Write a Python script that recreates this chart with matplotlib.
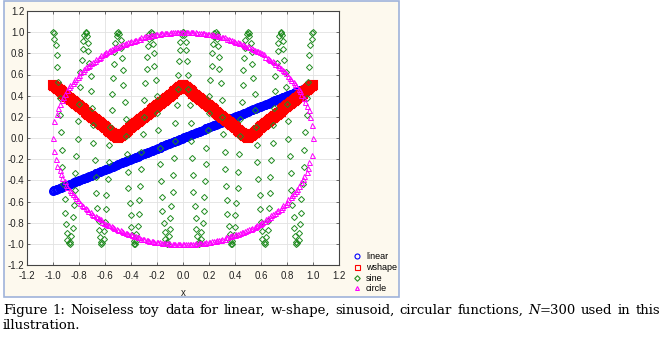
import matplotlib
matplotlib.use('Agg')
import matplotlib.pyplot as plt
from matplotlib.patches import Rectangle
from matplotlib.lines import Line2D

# toy data, N=300 points per series
X = [-1, -0.99, -0.99, -0.98, -0.97, -0.97, -0.96, -0.95, -0.95, -0.94, -0.93, -0.93,
     -0.92, -0.91, -0.91, -0.9, -0.89, -0.89, -0.88, -0.87, -0.87, -0.86, -0.85, -0.85,
     -0.84, -0.83, -0.83, -0.82, -0.81, -0.81, -0.8, -0.79, -0.79, -0.78, -0.77, -0.77,
     -0.76, -0.75, -0.75, -0.74, -0.73, -0.73, -0.72, -0.71, -0.71, -0.7, -0.69, -0.69,
     -0.68, -0.67, -0.67, -0.66, -0.65, -0.65, -0.64, -0.63, -0.63, -0.62, -0.61, -0.61,
     -0.6, -0.59, -0.59, -0.58, -0.57, -0.57, -0.56, -0.55, -0.55, -0.54, -0.53, -0.53,
     -0.52, -0.51, -0.51, -0.5, -0.49, -0.48, -0.48, -0.47, -0.46, -0.46, -0.45, -0.44,
     -0.44, -0.43, -0.42, -0.42, -0.41, -0.4, -0.4, -0.39, -0.38, -0.38, -0.37, -0.36,
     -0.36, -0.35, -0.34, -0.34, -0.33, -0.32, -0.32, -0.31, -0.3, -0.3, -0.29, -0.28,
     -0.28, -0.27, -0.26, -0.26, -0.25, -0.24, -0.24, -0.23, -0.22, -0.22, -0.21, -0.2,
     -0.2, -0.19, -0.18, -0.18, -0.17, -0.16, -0.16, -0.15, -0.14, -0.14, -0.13, -0.12,
     -0.12, -0.11, -0.1, -0.1, -0.09, -0.08, -0.08, -0.07, -0.06, -0.06, -0.05, -0.04,
     -0.04, -0.03, -0.02, -0.02, -0.01, 0, 0, 0.01, 0.02, 0.02, 0.03, 0.04,
     0.04, 0.05, 0.06, 0.06, 0.07, 0.08, 0.08, 0.09, 0.1, 0.1, 0.11, 0.12,
     0.12, 0.13, 0.14, 0.14, 0.15, 0.16, 0.16, 0.17, 0.18, 0.18, 0.19, 0.2,
     0.2, 0.21, 0.22, 0.22, 0.23, 0.24, 0.24, 0.25, 0.26, 0.26, 0.27, 0.28,
     0.28, 0.29, 0.3, 0.3, 0.31, 0.32, 0.32, 0.33, 0.34, 0.34, 0.35, 0.36,
     0.36, 0.37, 0.38, 0.38, 0.39, 0.4, 0.4, 0.41, 0.42, 0.42, 0.43, 0.44,
     0.44, 0.45, 0.46, 0.46, 0.47, 0.48, 0.48, 0.49, 0.5, 0.51, 0.51, 0.52,
     0.53, 0.53, 0.54, 0.55, 0.55, 0.56, 0.57, 0.57, 0.58, 0.59, 0.59, 0.6,
     0.61, 0.61, 0.62, 0.63, 0.63, 0.64, 0.65, 0.65, 0.66, 0.67, 0.67, 0.68,
     0.69, 0.69, 0.7, 0.71, 0.71, 0.72, 0.73, 0.73, 0.74, 0.75, 0.75, 0.76,
     0.77, 0.77, 0.78, 0.79, 0.79, 0.8, 0.81, 0.81, 0.82, 0.83, 0.83, 0.84,
     0.85, 0.85, 0.86, 0.87, 0.87, 0.88, 0.89, 0.89, 0.9, 0.91, 0.91, 0.92,
     0.93, 0.93, 0.94, 0.95, 0.95, 0.96, 0.97, 0.97, 0.98, 0.99, 0.99, 1]

LINEAR = [-0.5, -0.495, -0.495, -0.49, -0.485, -0.485, -0.48, -0.475, -0.475, -0.47, -0.465, -0.465,
          -0.46, -0.455, -0.455, -0.45, -0.445, -0.445, -0.44, -0.435, -0.435, -0.43, -0.425, -0.425,
          -0.42, -0.415, -0.415, -0.41, -0.405, -0.405, -0.4, -0.395, -0.395, -0.39, -0.385, -0.385,
          -0.38, -0.375, -0.375, -0.37, -0.365, -0.365, -0.36, -0.355, -0.355, -0.35, -0.345, -0.345,
          -0.34, -0.335, -0.335, -0.33, -0.325, -0.325, -0.32, -0.315, -0.315, -0.31, -0.305, -0.305,
          -0.3, -0.295, -0.295, -0.29, -0.285, -0.285, -0.28, -0.275, -0.275, -0.27, -0.265, -0.265,
          -0.26, -0.255, -0.255, -0.25, -0.245, -0.24, -0.24, -0.235, -0.23, -0.23, -0.225, -0.22,
          -0.22, -0.215, -0.21, -0.21, -0.205, -0.2, -0.2, -0.195, -0.19, -0.19, -0.185, -0.18,
          -0.18, -0.175, -0.17, -0.17, -0.165, -0.16, -0.16, -0.155, -0.15, -0.15, -0.145, -0.14,
          -0.14, -0.135, -0.13, -0.13, -0.125, -0.12, -0.12, -0.115, -0.11, -0.11, -0.105, -0.1,
          -0.1, -0.095, -0.09, -0.09, -0.085, -0.08, -0.08, -0.075, -0.07, -0.07, -0.065, -0.06,
          -0.06, -0.055, -0.05, -0.05, -0.045, -0.04, -0.04, -0.035, -0.03, -0.03, -0.025, -0.02,
          -0.02, -0.015, -0.01, -0.01, -0.005, 0, 0, 0.005, 0.01, 0.01, 0.015, 0.02,
          0.02, 0.025, 0.03, 0.03, 0.035, 0.04, 0.04, 0.045, 0.05, 0.05, 0.055, 0.06,
          0.06, 0.065, 0.07, 0.07, 0.075, 0.08, 0.08, 0.085, 0.09, 0.09, 0.095, 0.1,
          0.1, 0.105, 0.11, 0.11, 0.115, 0.12, 0.12, 0.125, 0.13, 0.13, 0.135, 0.14,
          0.14, 0.145, 0.15, 0.15, 0.155, 0.16, 0.16, 0.165, 0.17, 0.17, 0.175, 0.18,
          0.18, 0.185, 0.19, 0.19, 0.195, 0.2, 0.2, 0.205, 0.21, 0.21, 0.215, 0.22,
          0.22, 0.225, 0.23, 0.23, 0.235, 0.24, 0.24, 0.245, 0.25, 0.255, 0.255, 0.26,
          0.265, 0.265, 0.27, 0.275, 0.275, 0.28, 0.285, 0.285, 0.29, 0.295, 0.295, 0.3,
          0.305, 0.305, 0.31, 0.315, 0.315, 0.32, 0.325, 0.325, 0.33, 0.335, 0.335, 0.34,
          0.345, 0.345, 0.35, 0.355, 0.355, 0.36, 0.365, 0.365, 0.37, 0.375, 0.375, 0.38,
          0.385, 0.385, 0.39, 0.395, 0.395, 0.4, 0.405, 0.405, 0.41, 0.415, 0.415, 0.42,
          0.425, 0.425, 0.43, 0.435, 0.435, 0.44, 0.445, 0.445, 0.45, 0.455, 0.455, 0.46,
          0.465, 0.465, 0.47, 0.475, 0.475, 0.48, 0.485, 0.485, 0.49, 0.495, 0.495, 0.5]

WSHAPE = [0.5, 0.49, 0.49, 0.48, 0.47, 0.47, 0.46, 0.45, 0.45, 0.44, 0.43, 0.43,
          0.42, 0.41, 0.41, 0.4, 0.39, 0.39, 0.38, 0.37, 0.37, 0.36, 0.35, 0.35,
          0.34, 0.33, 0.33, 0.32, 0.31, 0.31, 0.3, 0.29, 0.29, 0.28, 0.27, 0.27,
          0.26, 0.25, 0.25, 0.24, 0.23, 0.23, 0.22, 0.21, 0.21, 0.2, 0.19, 0.19,
          0.18, 0.17, 0.17, 0.16, 0.15, 0.15, 0.14, 0.13, 0.13, 0.12, 0.11, 0.11,
          0.1, 0.09, 0.09, 0.08, 0.07, 0.07, 0.06, 0.05, 0.05, 0.04, 0.03, 0.03,
          0.02, 0.01, 0.01, 0, 0.01, 0.02, 0.02, 0.03, 0.04, 0.04, 0.05, 0.06,
          0.06, 0.07, 0.08, 0.08, 0.09, 0.1, 0.1, 0.11, 0.12, 0.12, 0.13, 0.14,
          0.14, 0.15, 0.16, 0.16, 0.17, 0.18, 0.18, 0.19, 0.2, 0.2, 0.21, 0.22,
          0.22, 0.23, 0.24, 0.24, 0.25, 0.26, 0.26, 0.27, 0.28, 0.28, 0.29, 0.3,
          0.3, 0.31, 0.32, 0.32, 0.33, 0.34, 0.34, 0.35, 0.36, 0.36, 0.37, 0.38,
          0.38, 0.39, 0.4, 0.4, 0.41, 0.42, 0.42, 0.43, 0.44, 0.44, 0.45, 0.46,
          0.46, 0.47, 0.48, 0.48, 0.49, 0.5, 0.5, 0.49, 0.48, 0.48, 0.47, 0.46,
          0.46, 0.45, 0.44, 0.44, 0.43, 0.42, 0.42, 0.41, 0.4, 0.4, 0.39, 0.38,
          0.38, 0.37, 0.36, 0.36, 0.35, 0.34, 0.34, 0.33, 0.32, 0.32, 0.31, 0.3,
          0.3, 0.29, 0.28, 0.28, 0.27, 0.26, 0.26, 0.25, 0.24, 0.24, 0.23, 0.22,
          0.22, 0.21, 0.2, 0.2, 0.19, 0.18, 0.18, 0.17, 0.16, 0.16, 0.15, 0.14,
          0.14, 0.13, 0.12, 0.12, 0.11, 0.1, 0.1, 0.09, 0.08, 0.08, 0.07, 0.06,
          0.06, 0.05, 0.04, 0.04, 0.03, 0.02, 0.02, 0.01, 0, 0.01, 0.01, 0.02,
          0.03, 0.03, 0.04, 0.05, 0.05, 0.06, 0.07, 0.07, 0.08, 0.09, 0.09, 0.1,
          0.11, 0.11, 0.12, 0.13, 0.13, 0.14, 0.15, 0.15, 0.16, 0.17, 0.17, 0.18,
          0.19, 0.19, 0.2, 0.21, 0.21, 0.22, 0.23, 0.23, 0.24, 0.25, 0.25, 0.26,
          0.27, 0.27, 0.28, 0.29, 0.29, 0.3, 0.31, 0.31, 0.32, 0.33, 0.33, 0.34,
          0.35, 0.35, 0.36, 0.37, 0.37, 0.38, 0.39, 0.39, 0.4, 0.41, 0.41, 0.42,
          0.43, 0.43, 0.44, 0.45, 0.45, 0.46, 0.47, 0.47, 0.48, 0.49, 0.49, 0.5]

SINE = [1, 0.99, 0.94, 0.88, 0.78, 0.67, 0.53, 0.38, 0.22, 0.06,
        -0.11, -0.27, -0.43, -0.58, -0.71, -0.81, -0.9, -0.96, -0.99, -1,
        -0.98, -0.93, -0.85, -0.75, -0.63, -0.49, -0.33, -0.17, -0.01, 0.16,
        0.32, 0.48, 0.62, 0.74, 0.84, 0.92, 0.97, 1, 0.99, 0.96,
        0.9, 0.82, 0.71, 0.59, 0.44, 0.28, 0.12, -0.05, -0.21, -0.37,
        -0.52, -0.66, -0.78, -0.87, -0.94, -0.98, -1, -0.99, -0.95, -0.88,
        -0.79, -0.67, -0.54, -0.39, -0.23, -0.07, 0.1, 0.26, 0.42, 0.57,
        0.7, 0.81, 0.9, 0.96, 0.99, 1, 0.98, 0.93, 0.85, 0.76,
        0.64, 0.5, 0.34, 0.18, 0.02, -0.15, -0.32, -0.47, -0.61, -0.73,
        -0.84, -0.92, -0.97, -1, -1, -0.97, -0.91, -0.83, -0.72, -0.59,
        -0.45, -0.29, -0.13, 0.04, 0.2, 0.36, 0.52, 0.65, 0.77, 0.87,
        0.94, 0.98, 1, 0.99, 0.95, 0.89, 0.8, 0.68, 0.55, 0.4,
        0.24, 0.08, -0.09, -0.25, -0.41, -0.56, -0.69, -0.8, -0.89, -0.95,
        -0.99, -1, -0.98, -0.93, -0.86, -0.76, -0.64, -0.51, -0.35, -0.19,
        -0.03, 0.14, 0.31, 0.46, 0.6, 0.73, 0.83, 0.91, 0.97, 1,
        1, 0.97, 0.91, 0.83, 0.73, 0.6, 0.46, 0.31, 0.14, -0.03,
        -0.19, -0.35, -0.51, -0.64, -0.76, -0.86, -0.93, -0.98, -1, -0.99,
        -0.95, -0.89, -0.8, -0.69, -0.56, -0.41, -0.25, -0.09, 0.08, 0.24,
        0.4, 0.55, 0.68, 0.8, 0.89, 0.95, 0.99, 1, 0.98, 0.94,
        0.87, 0.77, 0.65, 0.52, 0.36, 0.2, 0.04, -0.13, -0.29, -0.45,
        -0.59, -0.72, -0.83, -0.91, -0.97, -1, -1, -0.97, -0.92, -0.84,
        -0.73, -0.61, -0.47, -0.32, -0.15, 0.02, 0.18, 0.34, 0.5, 0.64,
        0.76, 0.85, 0.93, 0.98, 1, 0.99, 0.96, 0.9, 0.81, 0.7,
        0.57, 0.42, 0.26, 0.1, -0.07, -0.23, -0.39, -0.54, -0.67, -0.79,
        -0.88, -0.95, -0.99, -1, -0.98, -0.94, -0.87, -0.78, -0.66, -0.52,
        -0.37, -0.21, -0.05, 0.12, 0.28, 0.44, 0.59, 0.71, 0.82, 0.9,
        0.96, 0.99, 1, 0.97, 0.92, 0.84, 0.74, 0.62, 0.48, 0.32,
        0.16, -0.01, -0.17, -0.33, -0.49, -0.63, -0.75, -0.85, -0.93, -0.98,
        -1, -0.99, -0.96, -0.9, -0.81, -0.71, -0.58, -0.43, -0.27, -0.11,
        0.06, 0.22, 0.38, 0.53, 0.67, 0.78, 0.88, 0.94, 0.99, 1]

CIRCLE = [0, -0.12, 0.16, -0.2, 0.23, -0.26, 0.28, -0.3, 0.32, -0.34, 0.36, -0.38,
          0.39, -0.41, 0.42, -0.44, 0.45, -0.46, 0.48, -0.49, 0.5, -0.51, 0.52, -0.53,
          0.54, -0.55, 0.56, -0.57, 0.58, -0.59, 0.6, -0.61, 0.62, -0.63, 0.63, -0.64,
          0.65, -0.66, 0.67, -0.67, 0.68, -0.69, 0.69, -0.7, 0.71, -0.72, 0.72, -0.73,
          0.73, -0.74, 0.75, -0.75, 0.76, -0.76, 0.77, -0.77, 0.78, -0.79, 0.79, -0.8,
          0.8, -0.81, 0.81, -0.82, 0.82, -0.82, 0.83, -0.83, 0.84, -0.84, 0.85, -0.85,
          0.86, -0.86, 0.86, -0.87, 0.87, -0.87, 0.88, -0.88, 0.89, -0.89, 0.89, -0.9,
          0.9, -0.9, 0.91, -0.91, 0.91, -0.91, 0.92, -0.92, 0.92, -0.93, 0.93, -0.93,
          0.93, -0.94, 0.94, -0.94, 0.94, -0.95, 0.95, -0.95, 0.95, -0.95, 0.96, -0.96,
          0.96, -0.96, 0.96, -0.97, 0.97, -0.97, 0.97, -0.97, 0.97, -0.98, 0.98, -0.98,
          0.98, -0.98, 0.98, -0.98, 0.99, -0.99, 0.99, -0.99, 0.99, -0.99, 0.99, -0.99,
          0.99, -0.99, 0.99, -1, 1, -1, 1, -1, 1, -1, 1, -1, 1, -1,
          1, -1, 1, -1, 1, -1, 1, -1, 1, -1, 1, -1, 1, -1, 1, -1,
          1, -1, 1, -0.99, 0.99, -0.99, 0.99, -0.99, 0.99, -0.99, 0.99, -0.99, 0.99, -0.99,
          0.98, -0.98, 0.98, -0.98, 0.98, -0.98, 0.98, -0.97, 0.97, -0.97, 0.97, -0.97,
          0.97, -0.96, 0.96, -0.96, 0.96, -0.96, 0.95, -0.95, 0.95, -0.95, 0.95, -0.94,
          0.94, -0.94, 0.94, -0.93, 0.93, -0.93, 0.93, -0.92, 0.92, -0.92, 0.91, -0.91,
          0.91, -0.91, 0.9, -0.9, 0.9, -0.89, 0.89, -0.89, 0.88, -0.88, 0.87, -0.87,
          0.87, -0.86, 0.86, -0.86, 0.85, -0.85, 0.84, -0.84, 0.83, -0.83, 0.82, -0.82,
          0.82, -0.81, 0.81, -0.8, 0.8, -0.79, 0.79, -0.78, 0.77, -0.77, 0.76, -0.76,
          0.75, -0.75, 0.74, -0.73, 0.73, -0.72, 0.72, -0.71, 0.7, -0.69, 0.69, -0.68,
          0.67, -0.67, 0.66, -0.65, 0.64, -0.63, 0.63, -0.62, 0.61, -0.6, 0.59, -0.58,
          0.57, -0.56, 0.55, -0.54, 0.53, -0.52, 0.51, -0.5, 0.49, -0.48, 0.46, -0.45,
          0.44, -0.42, 0.41, -0.39, 0.38, -0.36, 0.34, -0.32, 0.3, -0.28, 0.26, -0.23,
          0.2, -0.16, 0.12, 0]

TICKS = [-1.2, -1.0, -0.8, -0.6, -0.4, -0.2, 0.0, 0.2, 0.4, 0.6, 0.8, 1.0, 1.2]
LABELS = ['linear', 'wshape', 'sine', 'circle']
CAPTION_1 = "Figure 1: Noiseless toy data for linear, w-shape, sinusoid, circular functions, N=300 used in this"
CAPTION_2 = "illustration."

W, H = 663, 339
fig = plt.figure(figsize=(W / 100, H / 100), dpi=100)
fig.patch.set_facecolor('white')

# cream panel with a light blue frame behind the plot
fig.patches.append(Rectangle((3.5 / W, 1 - 297 / H), 395.5 / W, 296 / H,
                             transform=fig.transFigure, facecolor='#fdf9ee',
                             edgecolor='#9fb3da', lw=1.2, zorder=-5))

ax = fig.add_axes([27 / W, 1 - 265 / H, 312 / W, 254 / H])
ax.set_facecolor('white')
styles = [('o', '#0000ff', 5.3, 1.2),
          ('s', '#ff0000', 6, 1.5),
          ('D', '#218c21', 3.1, 0.7),
          ('^', '#ff00ff', 3.6, 0.7)]
for ys, (mk, col, ms, mew) in zip([LINEAR, WSHAPE, SINE, CIRCLE], styles):
    ax.plot(X, ys, mk, mfc='none', mec=col, ms=ms, mew=mew)

ax.set_xlim(-1.2, 1.2)
ax.set_ylim(-1.2, 1.2)
ax.set_xticks(TICKS)
ax.set_yticks(TICKS)
tick_font = {'family': 'Liberation Sans', 'size': 7, 'color': '#222222'}
ax.set_xticklabels(['%.1f' % t for t in TICKS], fontdict=tick_font)
ax.set_yticklabels(['%.1f' % t for t in TICKS], fontdict=tick_font)
ax.tick_params(direction='in', length=2.5, width=0.6, color='#555555',
               top=True, right=True, pad=4)
ax.tick_params(axis='y', pad=2)
ax.grid(True, color='#e2e2e2', lw=0.6)
ax.set_axisbelow(True)
for s in ax.spines.values():
    s.set_color('#444444')
    s.set_linewidth(0.8)
ax.set_xlabel('x', fontdict=tick_font, labelpad=5)

# legend with thin, small markers as in the original
handles = [Line2D([], [], ls='none', marker=mk, mfc='none', mec=col,
                  ms=3.6 if mk in 'os' else 2.8, mew=0.8)
           for mk, col, _, _ in styles]
fig.legend(handles, LABELS, loc='lower left', bbox_to_anchor=(348 / W, 1 - 298 / H),
           frameon=False, prop={'family': 'Liberation Sans', 'size': 6.5},
           handletextpad=0.5, labelspacing=0.2, handlelength=1.0, borderpad=0)

# caption, justified on the first line like the page it comes from
fig.canvas.draw()
r = fig.canvas.get_renderer()
fam = 'DejaVu Serif'
fs = 9.5
words = CAPTION_1.split(' ')
widths = []
for w in words:
    t = fig.text(0, 0, w, family=fam, fontsize=fs)
    widths.append(t.get_window_extent(r).width)
    t.remove()
gap = (657 - sum(widths)) / (len(words) - 1)
xp = 3
for w, wd in zip(words, widths):
    if w.startswith('N='):
        t = fig.text(xp / W, 1 - 314 / H, 'N', family=fam, fontsize=fs, style='italic')
        nw = t.get_window_extent(r).width
        fig.text((xp + nw) / W, 1 - 314 / H, w[1:], family=fam, fontsize=fs)
    else:
        fig.text(xp / W, 1 - 314 / H, w, family=fam, fontsize=fs)
    xp += wd + gap
fig.text(3 / W, 1 - 329 / H, CAPTION_2, family=fam, fontsize=fs)

fig.savefig('out.png', dpi=100)
